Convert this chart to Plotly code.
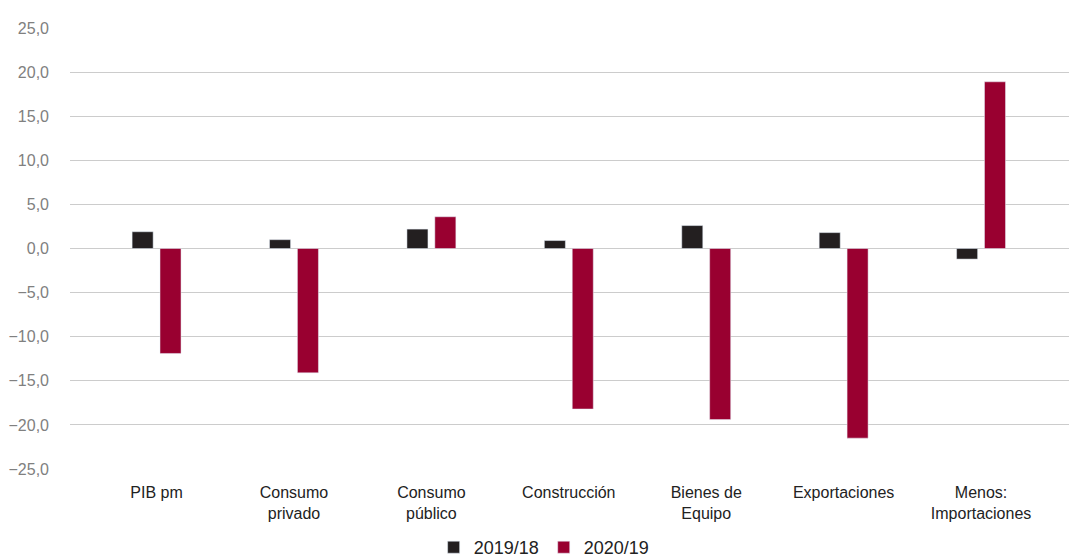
import plotly.graph_objects as go

categories = ["PIB pm", "Consumo<br>privado", "Consumo<br>público", "Construcción",
              "Bienes de<br>Equipo", "Exportaciones", "Menos:<br>Importaciones"]
s2019 = [1.9, 1.0, 2.2, 0.9, 2.6, 1.8, -1.2]
s2020 = [-11.9, -14.1, 3.6, -18.2, -19.4, -21.5, 18.9]
series_names = ["2019/18", "2020/19"]
tick_vals = [25, 20, 15, 10, 5, 0, -5, -10, -15, -20, -25]

x = list(range(len(categories)))

fig = go.Figure()
fig.add_trace(go.Bar(x=x, y=s2019, name=series_names[0], marker_color="#231f20",
                     width=0.153, offset=-0.178))
fig.add_trace(go.Bar(x=x, y=s2020, name=series_names[1], marker_color="#990030",
                     width=0.153, offset=0.025))

fig.update_layout(
    width=1069, height=560,
    margin=dict(l=70, r=0, t=28, b=91, autoexpand=False),
    paper_bgcolor="white", plot_bgcolor="white",
    font=dict(family="Liberation Sans, Arial, sans-serif", size=16, color="#222222"),
    separators=",.",
    barmode="overlay",
    showlegend=True,
    legend=dict(orientation="h", x=0.364, y=-0.178, xanchor="left", yanchor="middle",
                font=dict(size=18, color="#222222"), itemwidth=30, traceorder="normal"),
    xaxis=dict(tickmode="array", tickvals=x, ticktext=categories, automargin=False,
               range=[-0.63, 6.64], showgrid=False, zeroline=False, showline=False,
               ticks="", ticklabelstandoff=12, tickfont=dict(size=16, color="#222222")),
    yaxis=dict(range=[-25, 25], tickvals=tick_vals, tickformat=".1f", automargin=False,
               showgrid=True, gridcolor="#cccccc", gridwidth=1,
               zeroline=True, zerolinecolor="#cccccc", zerolinewidth=1,
               showline=False, ticks="", ticklabelstandoff=20,
               tickfont=dict(size=16, color="#808080")),
)

fig.write_html("out.html")
